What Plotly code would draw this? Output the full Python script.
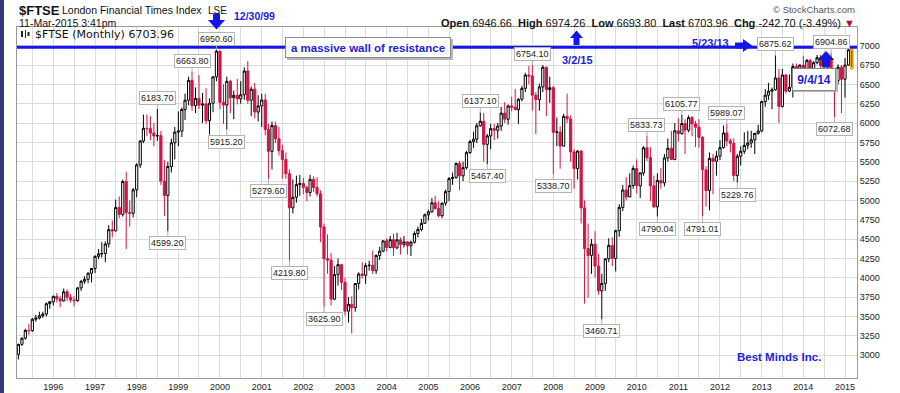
import pandas as pd
import plotly.graph_objects as go

# ---------------- data (monthly OHLC, Mar 1995 .. Mar 2015) ----------------
FIRST_MONTH = "1995-03-01"

OPEN_ = [
    # 1995 (Mar-Dec)
    3009, 3138, 3217, 3319, 3315, 3463, 3478, 3508, 3529, 3664,
    # 1996
    3689, 3759, 3728, 3700, 3818, 3748, 3711, 3703, 3868, 3954, 3979, 4058,
    # 1997
    4119, 4276, 4308, 4313, 4436, 4621, 4605, 4908, 4818, 5244, 4842, 4832,
    # 1998
    5136, 5459, 5767, 5932, 5928, 5871, 5833, 5837, 5249, 5064, 5438, 5744,
    # 1999
    5883, 5896, 6175, 6295, 6552, 6226, 6319, 6232, 6246, 6030, 6256, 6597,
    # 2000
    6930, 6269, 6233, 6540, 6327, 6359, 6313, 6365, 6673, 6294, 6438, 6142,
    # 2001
    6222, 6298, 5918, 5634, 5967, 5796, 5643, 5529, 5345, 4903, 5040, 5204,
    # 2002
    5217, 5165, 5101, 5272, 5166, 5085, 4656, 4246, 4227, 3722, 4040, 4169,
    # 2003
    3940, 3567, 3656, 3613, 3926, 4048, 4031, 4157, 4161, 4091, 4288, 4343,
    # 2004
    4477, 4391, 4492, 4386, 4490, 4431, 4464, 4413, 4459, 4571, 4624, 4703,
    # 2005
    4814, 4852, 4969, 4894, 4802, 4964, 5113, 5282, 5297, 5478, 5317, 5423,
    # 2006
    5619, 5760, 5792, 5965, 6023, 5724, 5833, 5928, 5906, 5961, 6129, 6049,
    # 2007
    6221, 6203, 6172, 6308, 6449, 6621, 6608, 6360, 6303, 6467, 6722, 6433,
    # 2008
    6457, 5880, 5884, 5702, 6087, 6054, 5626, 5412, 5637, 4903, 4377, 4288,
    # 2009
    4434, 4150, 3830, 3926, 4244, 4418, 4249, 4608, 4909, 5134, 5045, 5191,
    # 2010
    5413, 5189, 5355, 5680, 5553, 5188, 4917, 5258, 5225, 5549, 5675, 5528,
    # 2011
    5900, 5863, 5994, 5909, 6070, 5990, 5946, 5815, 5395, 5128, 5544, 5505,
    # 2012
    5572, 5682, 5872, 5769, 5738, 5321, 5571, 5635, 5712, 5742, 5783, 5867,
    # 2013
    5898, 6277, 6361, 6412, 6430, 6583, 6215, 6621, 6413, 6462, 6731, 6651,
    # 2014
    6749, 6510, 6810, 6598, 6780, 6845, 6744, 6730, 6820, 6623, 6547, 6723,
    # 2015 (Jan-Mar)
    6566, 6749, 6946.66,
]

HIGH = [
    3145, 3230, 3340, 3400, 3480, 3520, 3560, 3560, 3680, 3700,
    3770, 3800, 3760, 3860, 3850, 3790, 3760, 3880, 3970, 4020, 4070, 4120,
    4290, 4370, 4460, 4470, 4680, 4740, 5010, 5050, 5270, 5370, 5000, 5160,
    5480, 5780, 6110, 6110, 6090, 6000, 6183.70, 5900, 5520, 5500, 5800, 5950,
    6150, 6200, 6380, 6600, 6663.80, 6460, 6620, 6390, 6450, 6320, 6610, 6950.60,
    6935, 6500, 6600, 6560, 6420, 6570, 6540, 6720, 6800, 6470, 6520, 6360,
    6380, 6380, 5990, 6020, 6020, 5950, 5720, 5620, 5400, 5270, 5320, 5330,
    5290, 5190, 5330, 5310, 5300, 5130, 4700, 4560, 4320, 4150, 4250, 4180,
    4000, 3750, 3760, 3930, 4070, 4200, 4190, 4220, 4350, 4300, 4400, 4480,
    4510, 4540, 4570, 4580, 4520, 4540, 4470, 4480, 4600, 4660, 4760, 4830,
    4880, 5030, 5060, 4990, 4970, 5140, 5300, 5360, 5490, 5510, 5500, 5640,
    5780, 5890, 6000, 6137.10, 6130, 5860, 5990, 5990, 6000, 6210, 6270, 6240,
    6340, 6440, 6320, 6480, 6650, 6740, 6754.10, 6400, 6510, 6750, 6730, 6600,
    6480, 6070, 5960, 6120, 6380, 6100, 5660, 5650, 5650, 5000, 4700, 4500,
    4600, 4310, 4050, 4250, 4510, 4520, 4620, 4950, 5200, 5300, 5350, 5450,
    5530, 5360, 5700, 5833.73, 5690, 5320, 5350, 5420, 5600, 5800, 5900, 6000,
    6060, 6105.77, 6050, 6100, 6090, 6030, 6050, 5830, 5440, 5620, 5600, 5640,
    5780, 5970, 5989.07, 5800, 5800, 5600, 5700, 5880, 5900, 5900, 5850, 5980,
    6290, 6440, 6520, 6460, 6875.62, 6700, 6700, 6630, 6630, 6770, 6770, 6760,
    6870, 6830, 6830, 6800, 6880, 6880, 6830, 6830, 6904.86, 6650, 6760, 6750,
    6840, 6960, 6974.26,
]

LOW = [
    2942, 3120, 3200, 3260, 3300, 3430, 3460, 3480, 3500, 3600,
    3640, 3680, 3620, 3690, 3700, 3680, 3630, 3690, 3830, 3920, 3930, 3940,
    4060, 4240, 4260, 4200, 4390, 4520, 4600, 4770, 4790, 4370, 4660, 4780,
    5040, 5420, 5740, 5830, 5780, 5700, 5770, 5200, 4800, 4599.20, 5360, 5530,
    5700, 5820, 6040, 6230, 6160, 6130, 6180, 6000, 5990, 5850, 6140, 6540,
    6180, 5990, 5915.20, 6130, 6050, 6240, 6250, 6300, 6250, 6090, 6060, 6020,
    5950, 5840, 5279.60, 5400, 5740, 5580, 5280, 5280, 4219.80, 4830, 4970, 5060,
    5080, 4990, 5050, 5110, 5050, 4460, 3625.90, 4050, 3640, 3710, 3900, 3840,
    3510, 3420, 3277.5, 3560, 3850, 3990, 3920, 4090, 4050, 4050, 4230, 4330,
    4340, 4380, 4280, 4370, 4300, 4390, 4300, 4280, 4440, 4520, 4600, 4700,
    4740, 4840, 4880, 4780, 4770, 4930, 4990, 5200, 5280, 5130, 5250, 5400,
    5600, 5680, 5740, 5950, 5500, 5467.40, 5660, 5780, 5800, 5900, 6000, 5980,
    6150, 6170, 5990, 6280, 6400, 6500, 6160, 5858, 6160, 6400, 6090, 6260,
    5338.70, 5700, 5410, 5700, 6000, 5500, 5150, 5270, 4700, 3665, 3740, 4050,
    4000, 3780, 3460.71, 3830, 4200, 4150, 4080, 4530, 4860, 5000, 5040, 5150,
    5090, 5030, 5320, 5510, 4990, 4900, 4790.04, 5150, 5180, 5500, 5550, 5520,
    5760, 5850, 5600, 5880, 5830, 5690, 5680, 4791.01, 4920, 4870, 5080, 5320,
    5520, 5670, 5700, 5620, 5250, 5229.76, 5450, 5600, 5660, 5680, 5600, 5850,
    5880, 6210, 6300, 6180, 6420, 6000, 6200, 6380, 6400, 6330, 6560, 6420,
    6420, 6420, 6500, 6500, 6760, 6700, 6670, 6550, 6620, 6072.68, 6500, 6130,
    6330, 6740, 6693.80,
]

CLOSE = [
    3138, 3217, 3319, 3315, 3463, 3478, 3508, 3529, 3664, 3689,
    3759, 3728, 3700, 3818, 3748, 3711, 3703, 3868, 3954, 3979, 4058, 4119,
    4276, 4308, 4313, 4436, 4621, 4605, 4908, 4818, 5244, 4842, 4832, 5136,
    5459, 5767, 5932, 5928, 5871, 5833, 5837, 5249, 5064, 5438, 5744, 5883,
    5896, 6175, 6295, 6552, 6226, 6319, 6232, 6246, 6030, 6256, 6597, 6930,
    6269, 6233, 6540, 6327, 6359, 6313, 6365, 6673, 6294, 6438, 6142, 6222,
    6298, 5918, 5634, 5967, 5796, 5643, 5529, 5345, 4903, 5040, 5204, 5217,
    5165, 5101, 5272, 5166, 5085, 4656, 4246, 4227, 3722, 4040, 4169, 3940,
    3567, 3656, 3613, 3926, 4048, 4031, 4157, 4161, 4091, 4288, 4343, 4477,
    4391, 4492, 4386, 4490, 4431, 4464, 4413, 4459, 4571, 4624, 4703, 4814,
    4852, 4969, 4894, 4802, 4964, 5113, 5282, 5297, 5478, 5317, 5423, 5619,
    5760, 5792, 5965, 6023, 5724, 5833, 5928, 5906, 5961, 6129, 6049, 6221,
    6203, 6172, 6308, 6449, 6621, 6608, 6360, 6303, 6467, 6722, 6433, 6457,
    5880, 5884, 5702, 6087, 6054, 5626, 5412, 5637, 4903, 4377, 4288, 4434,
    4150, 3830, 3926, 4244, 4418, 4249, 4608, 4909, 5134, 5045, 5191, 5413,
    5189, 5355, 5680, 5553, 5188, 4917, 5258, 5225, 5549, 5675, 5528, 5900,
    5863, 5994, 5909, 6070, 5990, 5946, 5815, 5395, 5128, 5544, 5505, 5572,
    5682, 5872, 5769, 5738, 5321, 5571, 5635, 5712, 5742, 5783, 5867, 5898,
    6277, 6361, 6412, 6430, 6583, 6215, 6621, 6413, 6462, 6731, 6651, 6749,
    6510, 6810, 6598, 6780, 6845, 6744, 6730, 6820, 6623, 6547, 6723, 6566,
    6749, 6947, 6703.96,
]

# labelled extremes (month, value)
HIGH_LABELS = [("1998-07-01", 6183.70), ("1999-05-01", 6663.80), ("1999-12-01", 6950.60),
               ("2006-04-01", 6137.10), ("2007-07-01", 6754.10), ("2010-04-01", 5833.73),
               ("2011-02-01", 6105.77), ("2012-03-01", 5989.07), ("2013-05-01", 6875.62),
               ("2014-09-01", 6904.86)]
LOW_LABELS = [("1998-10-01", 4599.20), ("2000-03-01", 5915.20), ("2001-03-01", 5279.60),
              ("2001-09-01", 4219.80), ("2002-07-01", 3625.90), ("2006-06-01", 5467.40),
              ("2008-01-01", 5338.70), ("2009-03-01", 3460.71), ("2010-07-01", 4790.04),
              ("2011-08-01", 4791.01), ("2012-06-01", 5229.76), ("2014-10-01", 6072.68)]

RESISTANCE = 6980
Y_TICKS = list(range(3000, 7001, 250))

# ---------------- layout helpers ----------------
W, H = 900, 393
ML, MR, MT, MB = 17, 43, 27, 15
PW, PH = W - ML - MR, H - MT - MB


def px(x):
    return (x - ML) / PW


def py(y):
    return (H - MB - y) / PH


dates = pd.date_range(FIRST_MONTH, periods=len(CLOSE), freq="MS")

jan96, jan15 = pd.Timestamp("1996-01-01"), pd.Timestamp("2015-01-01")
x96, x15 = 53.3, 845.0
per_px = (jan15 - jan96) / (x15 - x96)
x_start = jan96 - per_px * (x96 - ML)
x_end = jan15 + per_px * (ML + PW - x15)

FONT = "Liberation Sans, Arial, sans-serif"
RED = "#d01545"
BLUE_T = "#1e1ed8"
BLUE = "#1414f0"
GRID = "#dcdcdc"
FRAME = "#9a9a9a"

fig = go.Figure()
fig.add_trace(go.Candlestick(
    x=dates, open=OPEN_, high=HIGH, low=LOW, close=CLOSE,
    increasing=dict(line=dict(color="black", width=1), fillcolor="white"),
    decreasing=dict(line=dict(color=RED, width=1), fillcolor=RED),
    whiskerwidth=0, showlegend=False, hoverinfo="skip"))
# highlight of the current (last) bar
fig.add_trace(go.Candlestick(
    x=dates[-1:], open=OPEN_[-1:], high=HIGH[-1:], low=LOW[-1:], close=CLOSE[-1:],
    increasing=dict(line=dict(color="#f0d000", width=1), fillcolor="white"),
    decreasing=dict(line=dict(color="#f0d000", width=1), fillcolor=RED),
    whiskerwidth=0, showlegend=False, hoverinfo="skip"))

shapes = []
ann = []

# left window edge strip
shapes.append(dict(type="rect", xref="paper", yref="paper", x0=px(0), x1=px(4),
                   y0=py(H), y1=py(0), fillcolor="#35357a", line=dict(width=0), layer="above"))

# resistance line
shapes.append(dict(type="line", xref="paper", yref="y", x0=0, x1=1, y0=RESISTANCE, y1=RESISTANCE,
                   line=dict(color=BLUE, width=3), layer="above"))


def poly(points, color, outline=None):
    path = "M " + " L ".join(f"{px(a):.5f},{py(b):.5f}" for a, b in points) + " Z"
    shapes.append(dict(type="path", xref="paper", yref="paper", path=path, fillcolor=color,
                       line=dict(width=1 if outline else 0, color=outline or color), layer="above"))


def rect_px(x0, y0, x1, y1, color):
    shapes.append(dict(type="rect", xref="paper", yref="paper", x0=px(x0), x1=px(x1),
                       y0=py(y1), y1=py(y0), fillcolor=color, line=dict(width=0), layer="above"))


# block arrows
poly([(213, 13.5), (220, 13.5), (220, 20), (225, 20), (216.5, 29.5), (208, 20), (213, 20)], BLUE)
poly([(576.5, 30.5), (583, 38), (579.5, 38), (579.5, 45), (573.5, 45), (573.5, 38), (570, 38)], BLUE)
poly([(735, 42.5), (743, 42.5), (743, 39), (752, 45.5), (743, 52), (743, 48.5), (735, 48.5)], BLUE)
poly([(826, 51.5), (833.5, 59.5), (829.5, 59.5), (829.5, 67), (822.5, 67), (822.5, 59.5), (818.5, 59.5)],
     BLUE, outline="#20207a")

# box shadows
rect_px(287, 39, 453, 60, "#b8b8b8")
rect_px(794, 69, 838, 92, "#b8b8b8")

# legend icon (tiny candles)
rect_px(21, 31, 23, 37, "#222")
rect_px(25, 30, 26, 38, "#222")
rect_px(27.5, 32, 29.5, 36, "#222")


def txt(x, y, text, size, color="#111", bold=False, xanchor="left", family=FONT, **kw):
    ann.append(dict(xref="paper", yref="paper", x=px(x), y=py(y),
                    text=f"<b>{text}</b>" if bold else text, showarrow=False,
                    xanchor=xanchor, yanchor="middle",
                    font=dict(size=size, color=color, family=family), **kw))


NB = "\u00a0"
txt(17, 10, "$FTSE", 13, "#111", bold=True)
txt(60, 10.5, "London Financial Times Index", 10.5)
txt(206, 10.5, "LSE", 10)
txt(17, 23, "11-Mar-2015 3:41pm", 10.5)
txt(232, 15.5, "12/30/99", 10.5, BLUE_T, bold=True)
header = (f"<b>Open</b>{NB}6946.66{NB}{NB}<b>High</b>{NB}6974.26{NB}{NB}<b>Low</b>{NB}6693.80"
          f"{NB}{NB}<b>Last</b>{NB}6703.96{NB}{NB}<b>Chg</b>{NB}-242.70{NB}(-3.49%){NB}"
          f"<span style='color:#b01030'>▼</span>")
txt(857, 22.7, header, 11, "#111", xanchor="right")
txt(857, 9.3, "© StockCharts.com", 9.5, "#555", xanchor="right")
txt(33, 34.3, "$FTSE (Monthly) 6703.96", 11, "#111", family="DejaVu Sans, Verdana, sans-serif")
txt(577, 60, "3/2/15", 11, BLUE_T, bold=True, xanchor="center")
txt(710.5, 42.7, "5/23/13", 11, BLUE_T, bold=True, xanchor="center")
txt(779, 357, "Best Minds Inc.", 11.5, BLUE_T, bold=True, xanchor="center")

txt(368, 47.5, "a massive wall of resistance", 11.5, BLUE_T, bold=True, xanchor="center",
    bgcolor="white", bordercolor="#8a8a8a", borderwidth=1, borderpad=0, width=164, height=19)
txt(814, 79.5, "9/4/14", 12, BLUE_T, bold=True, xanchor="center",
    bgcolor="white", bordercolor="#8a8a8a", borderwidth=1, borderpad=0, width=42, height=21)


def value_label(d, v, above):
    ann.append(dict(xref="x", yref="y", x=d, y=v, text=f"{v:.2f}", showarrow=True,
                    ax=0, ay=-11 if above else 12, arrowhead=0, arrowwidth=1, arrowcolor="#b0b0b0",
                    standoff=0, font=dict(size=9, color="#222", family=FONT),
                    bgcolor="white", bordercolor="#b4b4b4", borderwidth=1, borderpad=1))


for d, v in HIGH_LABELS:
    value_label(d, v, True)
for d, v in LOW_LABELS:
    value_label(d, v, False)

fig.update_layout(
    width=W, height=H, margin=dict(l=ML, r=MR, t=MT, b=MB, pad=0, autoexpand=False),
    paper_bgcolor="white", plot_bgcolor="white", showlegend=False,
    boxgap=0.02,
    font=dict(family=FONT, size=9, color="#222"),
    xaxis=dict(type="date", range=[x_start.isoformat(), x_end.isoformat()],
               rangeslider=dict(visible=False), tickformat="%Y", dtick="M12",
               tick0="1996-01-01", ticks="", showgrid=True, gridcolor=GRID, gridwidth=1,
               minor=dict(dtick="M6", tick0="1995-07-01", showgrid=True, gridcolor=GRID, ticks=""),
               showline=True, linecolor=FRAME, linewidth=1, mirror=True, zeroline=False,
               automargin=False,
               tickfont=dict(size=9, color="#222", family=FONT), fixedrange=True),
    yaxis=dict(side="right", range=[2703, 7242], tickmode="array", tickvals=Y_TICKS,
               tickformat="d", ticks="", showgrid=True, gridcolor=GRID, gridwidth=1,
               showline=True, linecolor=FRAME, linewidth=1, mirror=True, zeroline=False,
               automargin=False,
               tickfont=dict(size=9, color="#222", family=FONT), fixedrange=True),
    shapes=shapes, annotations=ann,
)

fig.write_html("out.html", config={"displayModeBar": False},
               post_script="document.body.style.margin='0px';document.body.style.overflow='hidden';")
